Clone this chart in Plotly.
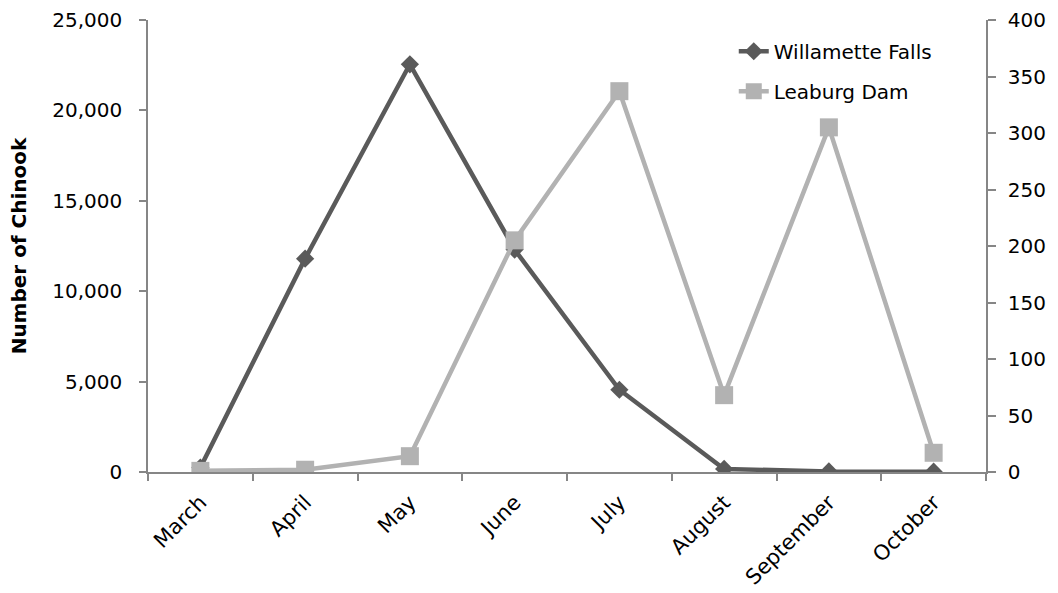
import plotly.graph_objects as go

months = ["March", "April", "May", "June", "July", "August", "September", "October"]
willamette_falls = [250, 11800, 22550, 12300, 4550, 170, 30, 20]
leaburg_dam = [1, 2, 14, 205, 337, 68, 305, 17]

font_family = "DejaVu Sans, sans-serif"
axis_color = "#868686"
dark = "#5a5a5a"
light = "#b2b2b2"

fig = go.Figure()
fig.add_trace(go.Scatter(
    x=months, y=willamette_falls, name="Willamette Falls",
    mode="lines+markers", legendgroup="a",
    line=dict(color=dark, width=4.5),
    marker=dict(symbol="diamond", size=14, color=dark),
    yaxis="y",
))
fig.add_trace(go.Scatter(
    x=months, y=leaburg_dam, name="Leaburg Dam",
    mode="lines+markers", legendgroup="b",
    line=dict(color=light, width=4.5),
    marker=dict(symbol="square", size=18, color=light),
    yaxis="y2",
))

fig.update_layout(
    width=1058, height=593,
    margin=dict(l=148, r=72, t=20, b=121),
    paper_bgcolor="white", plot_bgcolor="white",
    font=dict(family=font_family, size=20, color="black"),
    showlegend=True,
    legend=dict(x=0.699, y=0.974, xanchor="left", yanchor="top",
                bgcolor="rgba(0,0,0,0)", font=dict(size=20),
                tracegroupgap=11),
    xaxis=dict(
        type="category", range=[-0.5, 7.5], automargin=False,
        showline=True, linecolor=axis_color, linewidth=1.5,
        ticks="outside", ticklen=7, tickcolor=axis_color, tickwidth=1.5,
        tickson="boundaries", tickangle=-45, showgrid=False, zeroline=False,
        ticklabelstandoff=8,
        tickfont=dict(size=21),
    ),
    yaxis=dict(
        range=[0, 25000], dtick=5000, tickformat=",", automargin=False,
        showline=True, linecolor=axis_color, linewidth=1.5,
        ticks="outside", ticklen=7, tickcolor=axis_color, tickwidth=1.5,
        ticklabelstandoff=13,
        showgrid=False, zeroline=False,
        title=dict(text="<b>Number of Chinook</b>", font=dict(size=20), standoff=20),
    ),
    yaxis2=dict(
        range=[0, 400], dtick=50, overlaying="y", side="right", automargin=False,
        showline=True, linecolor=axis_color, linewidth=1.5,
        ticks="outside", ticklen=8, tickcolor=axis_color, tickwidth=1.5,
        ticklabelstandoff=8,
        showgrid=False, zeroline=False,
    ),
    yaxis3=dict(
        range=[0, 400], dtick=50, overlaying="y", side="right", anchor="x",
        automargin=False, showline=False, showticklabels=False,
        ticks="inside", ticklen=8, tickcolor=axis_color, tickwidth=1.5,
        showgrid=False, zeroline=False,
    ),
)

fig.write_html("out.html", config={"displayModeBar": False},
               post_script="document.body.style.margin='0';")
